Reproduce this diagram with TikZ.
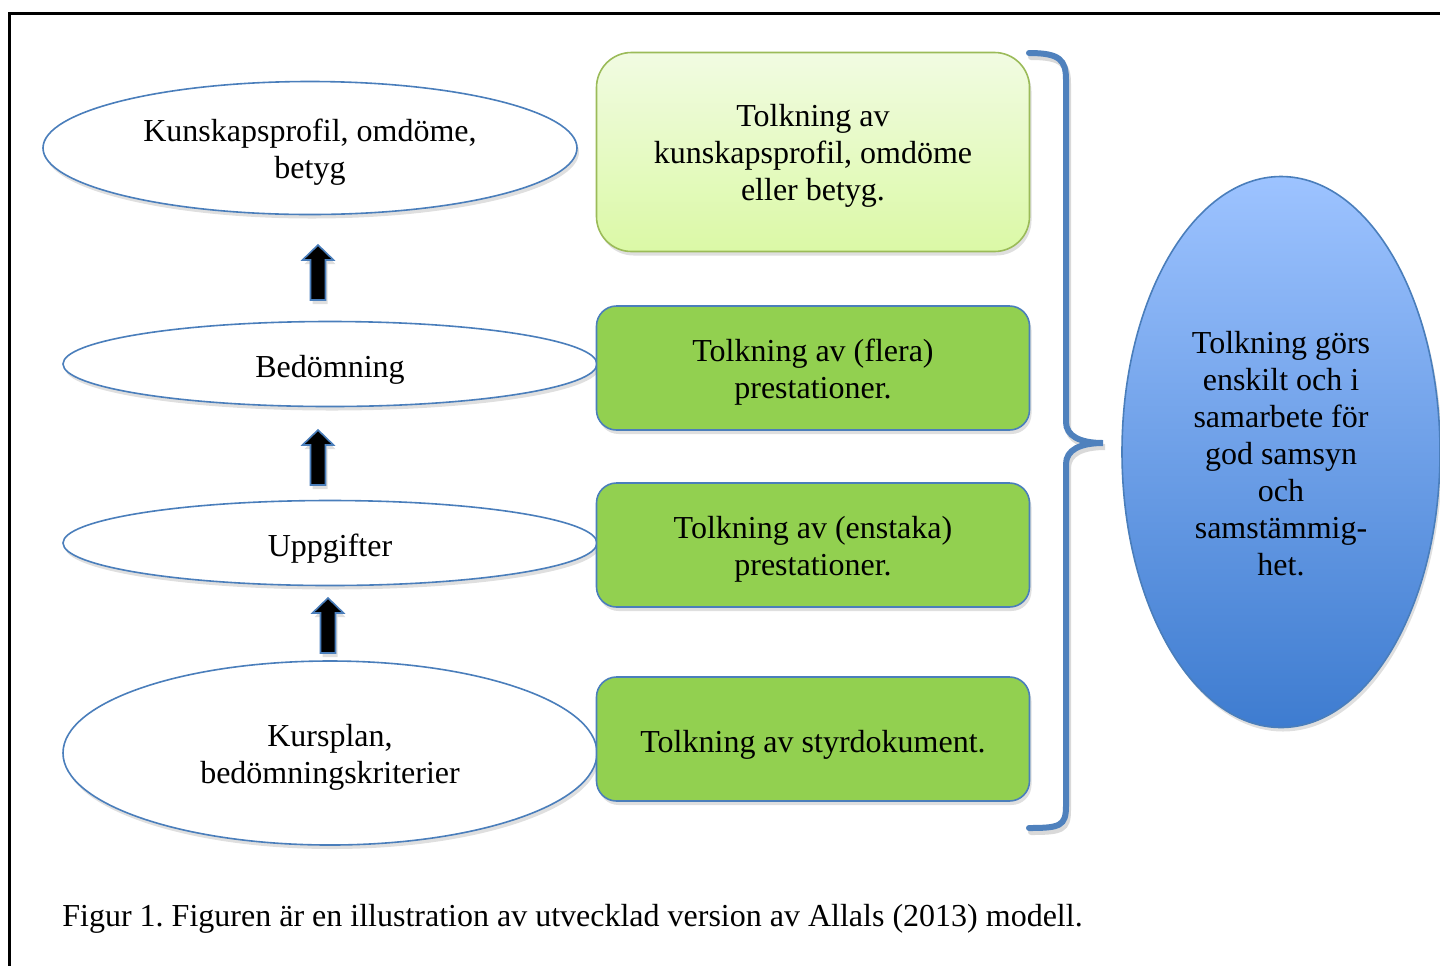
\documentclass[tikz,border=0pt]{standalone}
\usepackage{fontspec}
\setmainfont{Liberation Serif}
\usetikzlibrary{shapes.geometric,shadows}

\definecolor{wordblue}{HTML}{4A7EBB}
\definecolor{bracecol}{HTML}{4F81BD}
\definecolor{wordgreen}{HTML}{92D050}
\definecolor{paleborder}{HTML}{9BBB59}
\definecolor{paletop}{HTML}{F1FBE2}
\definecolor{palebottom}{HTML}{DBF9A6}
\definecolor{skytop}{HTML}{9DC3FF}
\definecolor{skybottom}{HTML}{3E7CD0}

% strut that pushes the first line down a little, as Word does
\newcommand\lift[1][15pt]{\rule{0pt}{#1}}

\begin{document}
\frenchspacing
\begin{tikzpicture}[x=0.5pt,y=-0.5pt,
    every node/.style={font=\fontsize{16}{18.5}\selectfont, align=center, inner sep=0pt},
    soft/.style={drop shadow={shadow xshift=1pt, shadow yshift=-2pt, opacity=0.25}},
    stage/.style={ellipse, draw=wordblue, line width=0.8pt, fill=white, soft},
    task/.style={rectangle, rounded corners=10pt, draw=wordblue, line width=0.8pt, fill=wordgreen,
        minimum width=216.5pt, minimum height=62pt, soft},
    blockarrow/.style={draw=wordblue, line width=0.8pt, fill=black, soft}]
    \useasboundingbox (0,0) rectangle (1440,965);
    % frame, only left and top edges show
    \draw [line width=1.5pt] (9,985) -- (9,13) -- (1460,13);

    % left column
    \node [stage, minimum width=267pt, minimum height=66.5pt] (profil) at (310,148) {\lift Kunskapsprofil, omdöme,\\betyg};
    \node [stage, minimum width=267pt, minimum height=42.5pt] (bedom) at (330,364) {\lift[16.5pt]Bedömning};
    \node [stage, minimum width=267pt, minimum height=42.5pt] (uppg) at (330,543) {\lift[16.5pt]Uppgifter};
    \node [stage, minimum width=267pt, minimum height=92pt] (kurs) at (330,753) {\lift Kursplan,\\bedömningskriterier};

    % block arrows, tip first
    \foreach \tx/\ty [count=\i] in {318/245, 318/430, 328/598} {
        \coordinate (tip\i) at (\tx,\ty);
        \draw [blockarrow] (tip\i) -- ++(15.5,15) -- ++(-8,0) -- ++(0,40) -- ++(-15,0)
            -- ++(0,-40) -- ++(-8,0) -- cycle;
    }

    % middle column
    \node [task, rounded corners=17.5pt, draw=paleborder, top color=paletop, bottom color=palebottom,
        minimum height=99.5pt] (tolk1) at (813,152) {\lift Tolkning av\\kunskapsprofil, omdöme\\eller betyg.};
    \node [task] (tolk2) at (813,368) {\lift Tolkning av (flera)\\prestationer.};
    \node [task] (tolk3) at (813,545) {\lift Tolkning av (enstaka)\\prestationer.};
    \node [task] (tolk4) at (813,739) {\lift[16.5pt]Tolkning av styrdokument.};

    % brace, with its shadow drawn first
    \foreach \dx/\dy/\col/\op in {2/4/black/0.15, 0/0/bracecol/1} {
        \draw [\col, opacity=\op, line width=3pt, line cap=round, shift={(\dx,\dy)}]
            (1029,53) .. controls (1060,53) and (1066,60) .. (1066,80) -- (1066,422)
            .. controls (1066,436) and (1080,443) .. (1103,443)
            .. controls (1080,443) and (1066,450) .. (1066,464) -- (1066,806)
            .. controls (1066,826) and (1060,828) .. (1029,828);
    }

    % right ellipse
    \node [stage, top color=skytop, bottom color=skybottom, minimum width=159pt, minimum height=275.5pt]
        (samsyn) at (1281,452) {\lift[13pt]Tolkning görs\\enskilt och i\\samarbete för\\god samsyn\\och\\samstämmig-\\het.};

    \node [anchor=base west] (figtext) at (62,926) {Figur 1. Figuren är en illustration av utvecklad version av Allals (2013) modell.};
\end{tikzpicture}
\end{document}
